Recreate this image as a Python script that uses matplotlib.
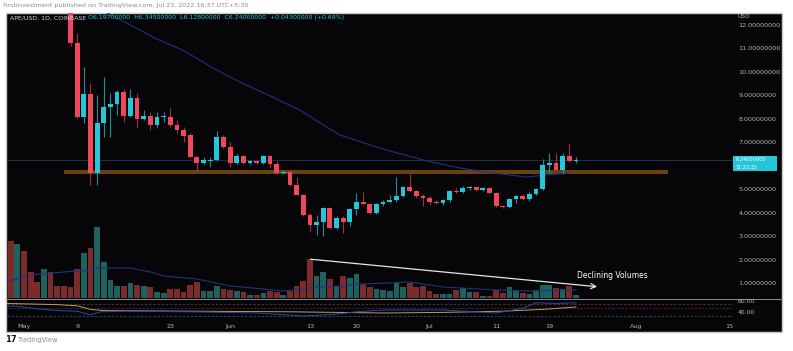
from matplotlib import pyplot as plt
from matplotlib.patches import Rectangle
import numpy as np

W, H = 793, 351

################ DADOS (dia 0 = 1 May 2022) ################
candle_days = list(range(7, 84))
opens = [13.00, 11.21, 8.06, 9.04, 5.68, 7.81, 8.49, 8.62, 9.13, 8.11,
         8.87, 7.98, 8.11, 7.72, 8.06, 8.08, 7.72, 7.51, 7.30, 6.36,
         6.11, 6.20, 6.22, 7.21, 6.79, 6.11, 6.40, 6.11, 6.19, 6.11,
         6.40, 6.06, 5.68, 5.72, 5.17, 4.76, 3.89, 3.47, 3.60, 4.19,
         3.34, 3.77, 3.60, 4.15, 4.45, 4.36, 3.98, 4.36, 4.45, 4.53,
         4.70, 5.09, 4.91, 4.70, 4.62, 4.45, 4.40, 4.53, 4.93, 4.87,
         5.04, 5.09, 4.96, 5.04, 4.83, 4.28, 4.23, 4.57, 4.70, 4.57,
         4.79, 5.00, 6.02, 6.10, 5.81, 6.40, 6.197]
highs = [13.40, 11.64, 10.19, 9.51, 9.00, 9.77, 9.09, 9.21, 9.26, 9.26,
         9.09, 8.36, 8.28, 8.28, 8.28, 8.45, 7.94, 7.64, 7.38, 6.40,
         6.36, 6.36, 7.47, 7.30, 7.00, 6.49, 6.45, 6.25, 6.23, 6.45,
         6.45, 6.19, 5.81, 5.76, 5.51, 4.79, 3.98, 3.89, 4.23, 4.23,
         3.85, 3.85, 4.19, 4.83, 4.87, 4.40, 4.40, 4.53, 4.74, 5.51,
         5.13, 5.64, 4.96, 4.79, 4.70, 4.53, 4.57, 4.96, 5.04, 5.13,
         5.13, 5.13, 5.09, 5.09, 4.87, 4.32, 4.62, 4.74, 4.79, 4.87,
         5.04, 6.28, 6.53, 6.53, 6.53, 6.96, 6.345]
lows = [11.09, 8.02, 7.81, 5.17, 5.17, 7.21, 7.21, 8.15, 7.85, 8.06,
        7.60, 7.94, 7.51, 7.60, 7.85, 7.64, 7.38, 7.00, 6.36, 5.81,
        6.06, 5.94, 6.19, 6.75, 5.94, 6.06, 6.08, 6.06, 6.08, 6.06,
        5.89, 5.64, 5.64, 5.13, 4.74, 3.85, 3.17, 3.04, 3.00, 3.30,
        3.30, 3.13, 3.43, 3.89, 4.32, 3.94, 3.94, 4.28, 4.40, 4.45,
        4.66, 4.87, 4.62, 4.28, 4.32, 4.36, 4.32, 4.45, 4.83, 4.83,
        4.96, 4.91, 4.91, 4.79, 4.23, 4.19, 4.19, 4.40, 4.53, 4.49,
        4.74, 4.96, 5.68, 5.76, 5.64, 6.15, 6.128]
closes = [11.21, 8.06, 9.04, 5.68, 7.81, 8.49, 8.62, 9.13, 8.11, 8.87,
          7.98, 8.11, 7.72, 8.06, 8.08, 7.72, 7.51, 7.26, 6.36, 6.11,
          6.23, 6.22, 7.21, 6.79, 6.11, 6.40, 6.11, 6.19, 6.11, 6.40,
          6.06, 5.68, 5.72, 5.17, 4.76, 3.89, 3.47, 3.60, 4.19, 3.34,
          3.77, 3.60, 4.15, 4.45, 4.36, 3.98, 4.36, 4.45, 4.53, 4.70,
          5.09, 4.91, 4.70, 4.62, 4.45, 4.40, 4.53, 4.91, 4.87, 5.04,
          5.09, 4.96, 5.04, 4.83, 4.28, 4.23, 4.57, 4.70, 4.57, 4.79,
          5.00, 6.02, 6.10, 5.81, 6.40, 6.19, 6.24]

# volume (milhoes), dias -2 .. 83
vol_days = list(range(-2, 84))
volumes = [28.5, 27.0, 23.5, 13.0, 8.0, 14.5, 13.0, 6.0, 6.0,
           5.5, 14.5, 22.5, 25.0, 35.5, 18.0, 9.0, 6.0, 6.0, 7.5,
           6.5, 6.0, 5.5, 3.0, 2.5, 4.5, 4.5, 3.0, 6.5, 8.0,
           3.5, 3.5, 6.0, 4.5, 4.0, 3.5, 3.0, 1.5, 1.5, 2.5,
           3.5, 3.0, 1.5, 3.5, 6.0, 8.5, 19.5, 11.0, 13.0, 9.5,
           6.0, 11.0, 10.0, 12.0, 7.0, 5.5, 4.5, 4.0, 3.5, 7.5,
           5.5, 7.5, 5.5, 6.0, 3.5, 2.0, 2.0, 2.0, 4.0, 5.0,
           3.0, 3.0, 1.0, 1.0, 4.0, 2.5, 5.5, 3.5, 2.5, 2.0,
           4.0, 6.5, 6.5, 5.0, 4.5, 6.0, 1.5]
pre_vol_dir = [-1, 1, -1, -1, -1, 1, -1, -1, -1]  # candles fora da tela (acima de 12.5)

vol_ma_days = [-3, 1, 6, 10, 11, 16, 19, 21, 26, 31, 36, 39, 44, 48, 51, 58, 63, 71, 76, 83]
vol_ma = [8.0, 11.5, 13.0, 14.0, 15.0, 15.0, 13.0, 11.0, 9.5, 6.0, 4.5, 3.5, 5.5, 6.0, 7.0, 8.0, 5.5, 4.0, 3.5, 4.0]

ma_days = [11.5, 20.0, 23.9, 28.4, 32.5, 37.4, 41.5, 43.8, 47.5, 53.5, 60.6, 65.6, 70.5, 75.6, 78.6, 82.1]
ma_price = [12.65, 11.38, 10.91, 10.15, 9.55, 8.91, 8.36, 7.94, 7.30, 6.74, 6.19, 5.89, 5.68, 5.51, 5.60, 5.68]

rsi_days = [-3, -1, 2, 5, 8, 10, 11.5, 16, 25, 35, 42, 47, 50, 54, 63, 71, 75, 77, 80, 83]
rsi = [52, 51, 47, 44, 43, 37, 42, 43, 42, 40, 35, 38, 42, 45, 45, 40, 48, 57, 56, 57]
rsi_ma_days = [-3, 5, 8, 10, 12, 25, 40, 54, 63, 72, 78, 83]
rsi_ma = [56, 54, 52, 46, 44, 43, 42, 40, 41, 43, 46, 50]

band_days = (6.0, 96.8)
band_prices = (5.63, 5.81)
last_close = 6.24

# 6.00000000 fica escondido atras da etiqueta do preco atual
price_ticks = [1, 2, 3, 4, 5, 7, 8, 9, 10, 11, 12]
tick_days = [0, 8, 22, 31, 43, 50, 61, 71, 79, 92, 106]
tick_labels = ['May', '9', '23', 'Jun', '13', '20', 'Jul', '11', '19', 'Aug', '15']

decl_start = (42.7, 19.5)
decl_end = (86.6, 5.5)

################ CORES ################
UP = '#26c6da'
DOWN = '#f0475a'
UP_WICK = '#1c8f9c'
DOWN_WICK = '#a3303d'
VOL_UP = '#1e615e'
VOL_DOWN = '#7a2b2b'
MA_BLUE = '#1f3380'
TXT = '#b2b5be'
BG = '#060608'


def fx(px):
    return px / W


def fy(py):
    return 1 - py / H


fig = plt.figure(figsize=(W / 100, H / 100), dpi=100)
fig.patch.set_facecolor('white')
fig.patches.append(Rectangle((fx(6), fy(332)), fx(782) - fx(6), fy(12.5) - fy(332),
                             transform=fig.transFigure, facecolor=BG,
                             edgecolor='#c9c9c9', lw=1.0, zorder=-10))

x_left, x_right = fx(7), fx(733)
ax_vol = fig.add_axes([x_left, fy(298), x_right - x_left, fy(13) - fy(298)])
ax = fig.add_axes([x_left, fy(298), x_right - x_left, fy(13) - fy(298)], sharex=ax_vol)
ax_rsi = fig.add_axes([x_left, fy(320), x_right - x_left, fy(300) - fy(320)], sharex=ax_vol)

for a in (ax_vol, ax, ax_rsi):
    a.set_facecolor('none')
    for s in a.spines.values():
        s.set_visible(False)

ax_vol.set_xlim(-2.556, 106.62)

################ VOLUME ################
vol_dir = pre_vol_dir + [1 if c >= o else -1 for o, c in zip(opens, closes)]
vol_colors = [VOL_UP if d > 0 else VOL_DOWN for d in vol_dir]
ax_vol.bar(vol_days, volumes, width=0.86, color=vol_colors, linewidth=0)
ax_vol.plot(vol_ma_days, vol_ma, color=MA_BLUE, lw=0.8)
ax_vol.set_ylim(0, max(volumes) * 4.01)
ax_vol.tick_params(left=False, bottom=False, labelleft=False, labelbottom=False)

# linha "Declining Volumes"
ax_vol.annotate('', xy=decl_end, xytext=decl_start,
                arrowprops=dict(arrowstyle='->', color='white', lw=0.9, mutation_scale=9, alpha=0.9))
ax_vol.text(83.2, 11.2, 'Declining Volumes', color='white', fontsize=5.5, ha='left', va='center')

################ CANDLES ################
o = np.array(opens)
c = np.array(closes)
up = c >= o
ax.add_patch(Rectangle((band_days[0], band_prices[0]), band_days[1] - band_days[0],
                       band_prices[1] - band_prices[0], facecolor='#6a4212', edgecolor='none', zorder=1))
ax.axhline(last_close, color='#26354d', lw=0.6, zorder=1)
ax.plot(ma_days, ma_price, color=MA_BLUE, lw=0.8, zorder=2)
ax.vlines(candle_days, lows, highs, colors=[UP_WICK if u else DOWN_WICK for u in up], lw=0.8, zorder=3)
body_h = np.maximum(np.abs(c - o), 0.03)
ax.bar(candle_days, body_h, bottom=np.minimum(o, c), width=0.72,
       color=[UP if u else DOWN for u in up], linewidth=0, zorder=4)
ax.set_ylim(0.362, 12.49)
ax.yaxis.tick_right()
ax.set_yticks(price_ticks)
ax.set_yticklabels(['%.8f' % p for p in price_ticks])
ax.tick_params(axis='y', length=0, pad=4, labelsize=4.6, labelcolor=TXT)
ax.tick_params(axis='x', length=0, labelbottom=False)

################ RSI ################
ax_rsi.set_ylim(28.3, 61.7)
ax_rsi.axhline(55.0, color='#6b2c38', lw=0.6, ls=(0, (3, 2)))
ax_rsi.axhline(48.3, color='#3c3f4c', lw=0.5, ls=(0, (3, 2)))
ax_rsi.axhline(35.0, color='#3f4866', lw=0.6, ls=(0, (3, 2)))
ax_rsi.plot(rsi_ma_days, rsi_ma, color='#c29a5c', lw=0.7)
ax_rsi.plot(rsi_days, rsi, color='#2d45b0', lw=0.7)
ax_rsi.set_yticks([])
ax_rsi.set_xticks(tick_days)
ax_rsi.set_xticklabels(tick_labels)
ax_rsi.tick_params(axis='x', length=0, pad=3, labelsize=4.6, labelcolor=TXT)

################ TEXTOS ################
fig.add_artist(plt.Line2D([fx(6), fx(782)], [fy(298.5), fy(298.5)], color='#8a8d96', lw=0.7))
fig.text(fx(3), fy(6), 'firstinvestment published on TradingView.com, Jul 23, 2022 16:37 UTC+5:30',
         fontsize=4.6, color='#8c8c8c', va='center', ha='left')
fig.text(fx(10), fy(17.5), 'APE/USD, 1D, COINBASE', fontsize=4.5, color='#d1d4dc', va='center')
fig.text(fx(88), fy(17.5), 'O6.19700000  H6.34500000  L6.12800000  C6.24000000  +0.04300000 (+0.69%)',
         fontsize=4.5, color=UP, va='center')
fig.text(fx(738), fy(16.5), 'USD', fontsize=4.2, color=TXT, va='center')
fig.patches.append(Rectangle((fx(733), fy(171)), fx(777) - fx(733), fy(156) - fy(171),
                             transform=fig.transFigure, facecolor=UP, edgecolor='none', zorder=5))
fig.text(fx(736), fy(159.5), '6.24000000', fontsize=3.6, color='white', va='center', zorder=6)
fig.text(fx(736), fy(167.3), '11:22:32', fontsize=3.6, color='white', va='center', zorder=6)
fig.text(fx(738), fy(301.5), '60.00', fontsize=4.4, color=TXT, va='center')
fig.text(fx(738), fy(313), '40.00', fontsize=4.4, color=TXT, va='center')
fig.text(fx(5), fy(340), '17', fontsize=6, color='#131722', va='center', fontweight='bold')
fig.text(fx(18), fy(340), 'TradingView', fontsize=4.8, color='#8c8c8c', va='center')

plt.savefig('out.png', dpi=100, facecolor=fig.get_facecolor())
